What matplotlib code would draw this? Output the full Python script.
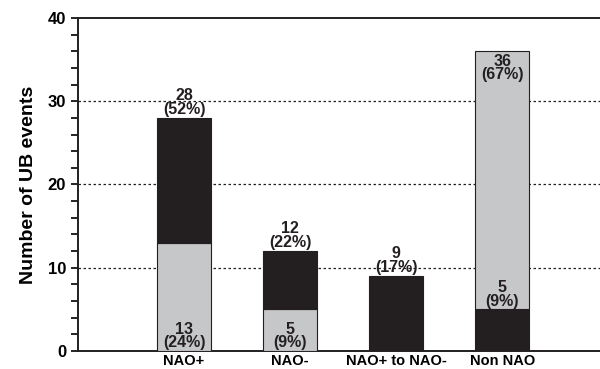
import matplotlib.pyplot as plt
from matplotlib.ticker import MultipleLocator

plt.rcParams['font.family'] = ['Liberation Sans', 'DejaVu Sans']

# data
categories = ['NAO+', 'NAO-', 'NAO+ to NAO-', 'Non NAO']
lower_vals = [13, 5, 0, 5]      # lower segment of each bar
upper_vals = [15, 7, 9, 31]     # upper segment of each bar
lower_kind = ['gray', 'gray', 'black', 'black']
upper_kind = ['black', 'black', 'black', 'gray']
totals = [28, 12, 9, 36]
total_pct = [52, 22, 17, 67]
part_vals = [13, 5, None, 5]
part_pct = [24, 9, None, 9]

GRAY = '#c6c7c9'
BLACK = '#231f20'
cmap = {'gray': GRAY, 'black': BLACK}

fig = plt.figure(figsize=(6, 3.69), dpi=100)
ax = fig.add_axes([0.13, 0.049, 0.87, 0.902])

x = list(range(len(categories)))

ax.bar(x, lower_vals, width=0.51, color=[cmap[k] for k in lower_kind], edgecolor=BLACK,
       linewidth=0.8, zorder=3)
ax.bar(x, upper_vals, bottom=lower_vals, width=0.51, color=[cmap[k] for k in upper_kind],
       edgecolor=BLACK, linewidth=0.8, zorder=3)

ax.set_xlim(-1, 3.92)
ax.set_ylim(0, 40)
ax.set_xticks(x)
ax.set_xticklabels(categories, fontsize=10.5, fontweight='bold')
ax.tick_params(axis='x', length=0, pad=2)

ax.yaxis.set_major_locator(MultipleLocator(10))
ax.yaxis.set_minor_locator(MultipleLocator(2))
ax.tick_params(axis='y', which='both', direction='out', length=5, width=1.2)
for lab in ax.get_yticklabels():
    lab.set_fontsize(12)
    lab.set_fontweight('bold')
ax.set_ylabel('Number of UB events', fontsize=14, fontweight='bold', labelpad=8)

for y in [10, 20, 30]:
    ax.axhline(y, color=BLACK, linewidth=0.9, linestyle=(0, (2, 2)), zorder=1)

ax.spines['right'].set_visible(False)
for s in ['left', 'top', 'bottom']:
    ax.spines[s].set_linewidth(1.4)
    ax.spines[s].set_color(BLACK)

kw = dict(ha='center', fontsize=11.5, fontweight='bold', linespacing=0.85, color=BLACK,
          textcoords='offset points', zorder=5)

# totals: above the bar, or inside the top when the top segment is gray
for i in range(len(categories)):
    txt = f'{totals[i]}\n({total_pct[i]}%)'
    if upper_kind[i] == 'black':
        ax.annotate(txt, (x[i], totals[i]), xytext=(0, 1), va='bottom', **kw)
    else:
        ax.annotate(txt, (x[i], totals[i]), xytext=(0, -2), va='top', **kw)

# parts
for i in range(len(categories)):
    if part_vals[i] is None:
        continue
    txt = f'{part_vals[i]}\n({part_pct[i]}%)'
    base = 0 if lower_kind[i] == 'gray' else lower_vals[i]
    ax.annotate(txt, (x[i], base), xytext=(0, 0.5), va='bottom', **kw)

fig.savefig('out.png', dpi=100)
